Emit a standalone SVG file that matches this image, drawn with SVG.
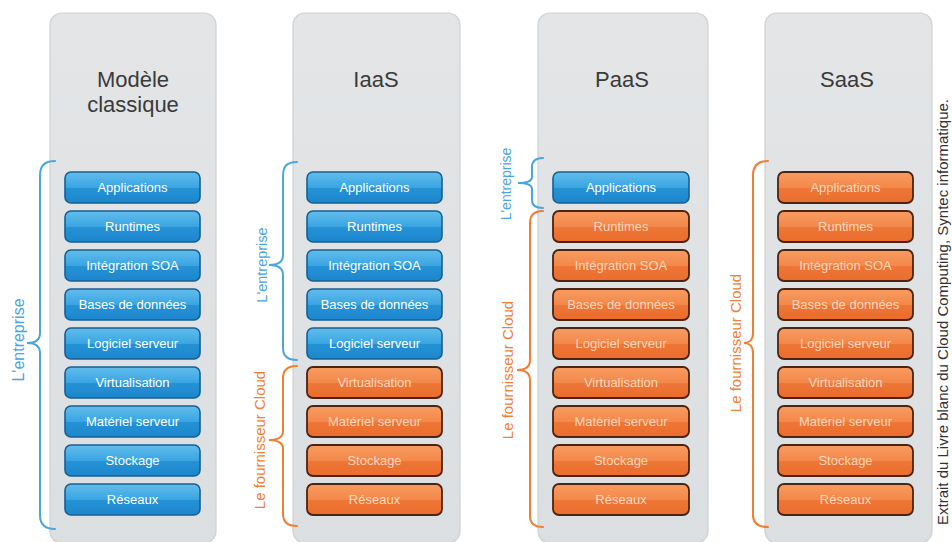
<svg xmlns="http://www.w3.org/2000/svg" width="952" height="542" viewBox="0 0 952 542">
  <defs>
    <linearGradient id="gBlue" x1="0" y1="0" x2="0" y2="1">
      <stop offset="0" stop-color="#62bdec"/>
      <stop offset="0.5" stop-color="#3aa5e2"/>
      <stop offset="0.52" stop-color="#2592d6"/>
      <stop offset="1" stop-color="#1d86cc"/>
    </linearGradient>
    <linearGradient id="gOrange" x1="0" y1="0" x2="0" y2="1">
      <stop offset="0" stop-color="#f89c62"/>
      <stop offset="0.5" stop-color="#f3884a"/>
      <stop offset="0.52" stop-color="#ee7637"/>
      <stop offset="1" stop-color="#ea6d2c"/>
    </linearGradient>
    <linearGradient id="gPanel" x1="0" y1="0" x2="0" y2="1">
      <stop offset="0" stop-color="#e3e5e7"/>
      <stop offset="1" stop-color="#dcdfe1"/>
    </linearGradient>
  </defs>
  <style>
    .panel { fill: url(#gPanel); stroke: #cdd1d4; stroke-width: 1.2; }
    .blue rect { fill: url(#gBlue); stroke: #175f92; stroke-width: 1.6; }
    .orange rect { fill: url(#gOrange); stroke: #4b2412; stroke-width: 1.8; }
    .blue text { fill: #ffffff; }
    .orange text { fill: #fbd6bc; }
    .box text { font-family: "Liberation Sans", Arial, sans-serif; font-size: 13px; text-anchor: middle; }
    .head { font-family: "Liberation Sans", Arial, sans-serif; font-size: 22px; fill: #3a3a3a; text-anchor: middle; }
    .brace { fill: none; stroke-width: 2; stroke-linecap: round; }
    .bBlue { stroke: #4aa6de; }
    .bOrange { stroke: #f07f36; }
    .lbl { font-family: "Liberation Sans", Arial, sans-serif; text-anchor: middle; }
    .lBlue { fill: #4aa6de; }
    .lOrange { fill: #f07f36; }
    .credit { font-family: "Liberation Sans", Arial, sans-serif; font-size: 15px; fill: #333333; text-anchor: middle; }
  </style>

  <rect width="952" height="542" fill="#ffffff"/>

  <!-- Column 1: Modèle classique -->
  <g id="col-classique">
    <rect class="panel" x="50" y="13" width="166" height="530" rx="12"/>
    <text class="head" x="133" y="87">Modèle</text>
    <text class="head" x="133" y="112">classique</text>
    <g id="c1-applications" class="box blue"><rect x="65" y="172" width="135" height="31" rx="6"/><text x="132.5" y="192">Applications</text></g>
    <g id="c1-runtimes" class="box blue"><rect x="65" y="211" width="135" height="31" rx="6"/><text x="132.5" y="231">Runtimes</text></g>
    <g id="c1-soa" class="box blue"><rect x="65" y="250" width="135" height="31" rx="6"/><text x="132.5" y="270">Intégration SOA</text></g>
    <g id="c1-bdd" class="box blue"><rect x="65" y="289" width="135" height="31" rx="6"/><text x="132.5" y="309">Bases de données</text></g>
    <g id="c1-logiciel" class="box blue"><rect x="65" y="328" width="135" height="31" rx="6"/><text x="132.5" y="348">Logiciel serveur</text></g>
    <g id="c1-virtu" class="box blue"><rect x="65" y="367" width="135" height="31" rx="6"/><text x="132.5" y="387">Virtualisation</text></g>
    <g id="c1-materiel" class="box blue"><rect x="65" y="406" width="135" height="31" rx="6"/><text x="132.5" y="426">Matériel serveur</text></g>
    <g id="c1-stockage" class="box blue"><rect x="65" y="445" width="135" height="31" rx="6"/><text x="132.5" y="465">Stockage</text></g>
    <g id="c1-reseaux" class="box blue"><rect x="65" y="484" width="135" height="31" rx="6"/><text x="132.5" y="504">Réseaux</text></g>
  </g>

  <!-- Column 2: IaaS -->
  <g id="col-iaas">
    <rect class="panel" x="293" y="13" width="167" height="530" rx="12"/>
    <text class="head" x="376" y="87">IaaS</text>
    <g id="c2-applications" class="box blue"><rect x="307" y="172" width="135" height="31" rx="6"/><text x="374.5" y="192">Applications</text></g>
    <g id="c2-runtimes" class="box blue"><rect x="307" y="211" width="135" height="31" rx="6"/><text x="374.5" y="231">Runtimes</text></g>
    <g id="c2-soa" class="box blue"><rect x="307" y="250" width="135" height="31" rx="6"/><text x="374.5" y="270">Intégration SOA</text></g>
    <g id="c2-bdd" class="box blue"><rect x="307" y="289" width="135" height="31" rx="6"/><text x="374.5" y="309">Bases de données</text></g>
    <g id="c2-logiciel" class="box blue"><rect x="307" y="328" width="135" height="31" rx="6"/><text x="374.5" y="348">Logiciel serveur</text></g>
    <g id="c2-virtu" class="box orange"><rect x="307" y="367" width="135" height="31" rx="6"/><text x="374.5" y="387">Virtualisation</text></g>
    <g id="c2-materiel" class="box orange"><rect x="307" y="406" width="135" height="31" rx="6"/><text x="374.5" y="426">Matériel serveur</text></g>
    <g id="c2-stockage" class="box orange"><rect x="307" y="445" width="135" height="31" rx="6"/><text x="374.5" y="465">Stockage</text></g>
    <g id="c2-reseaux" class="box orange"><rect x="307" y="484" width="135" height="31" rx="6"/><text x="374.5" y="504">Réseaux</text></g>
  </g>

  <!-- Column 3: PaaS -->
  <g id="col-paas">
    <rect class="panel" x="538" y="13" width="170" height="530" rx="12"/>
    <text class="head" x="622" y="87">PaaS</text>
    <g id="c3-applications" class="box blue"><rect x="553" y="172" width="136" height="31" rx="6"/><text x="621" y="192">Applications</text></g>
    <g id="c3-runtimes" class="box orange"><rect x="553" y="211" width="136" height="31" rx="6"/><text x="621" y="231">Runtimes</text></g>
    <g id="c3-soa" class="box orange"><rect x="553" y="250" width="136" height="31" rx="6"/><text x="621" y="270">Intégration SOA</text></g>
    <g id="c3-bdd" class="box orange"><rect x="553" y="289" width="136" height="31" rx="6"/><text x="621" y="309">Bases de données</text></g>
    <g id="c3-logiciel" class="box orange"><rect x="553" y="328" width="136" height="31" rx="6"/><text x="621" y="348">Logiciel serveur</text></g>
    <g id="c3-virtu" class="box orange"><rect x="553" y="367" width="136" height="31" rx="6"/><text x="621" y="387">Virtualisation</text></g>
    <g id="c3-materiel" class="box orange"><rect x="553" y="406" width="136" height="31" rx="6"/><text x="621" y="426">Matériel serveur</text></g>
    <g id="c3-stockage" class="box orange"><rect x="553" y="445" width="136" height="31" rx="6"/><text x="621" y="465">Stockage</text></g>
    <g id="c3-reseaux" class="box orange"><rect x="553" y="484" width="136" height="31" rx="6"/><text x="621" y="504">Réseaux</text></g>
  </g>

  <!-- Column 4: SaaS -->
  <g id="col-saas">
    <rect class="panel" x="765" y="13" width="167" height="530" rx="12"/>
    <text class="head" x="847" y="87">SaaS</text>
    <g id="c4-applications" class="box orange"><rect x="778" y="172" width="135" height="31" rx="6"/><text x="845.5" y="192">Applications</text></g>
    <g id="c4-runtimes" class="box orange"><rect x="778" y="211" width="135" height="31" rx="6"/><text x="845.5" y="231">Runtimes</text></g>
    <g id="c4-soa" class="box orange"><rect x="778" y="250" width="135" height="31" rx="6"/><text x="845.5" y="270">Intégration SOA</text></g>
    <g id="c4-bdd" class="box orange"><rect x="778" y="289" width="135" height="31" rx="6"/><text x="845.5" y="309">Bases de données</text></g>
    <g id="c4-logiciel" class="box orange"><rect x="778" y="328" width="135" height="31" rx="6"/><text x="845.5" y="348">Logiciel serveur</text></g>
    <g id="c4-virtu" class="box orange"><rect x="778" y="367" width="135" height="31" rx="6"/><text x="845.5" y="387">Virtualisation</text></g>
    <g id="c4-materiel" class="box orange"><rect x="778" y="406" width="135" height="31" rx="6"/><text x="845.5" y="426">Matériel serveur</text></g>
    <g id="c4-stockage" class="box orange"><rect x="778" y="445" width="135" height="31" rx="6"/><text x="845.5" y="465">Stockage</text></g>
    <g id="c4-reseaux" class="box orange"><rect x="778" y="484" width="135" height="31" rx="6"/><text x="845.5" y="504">Réseaux</text></g>
  </g>

  <!-- Braces marking who manages each layer -->
  <g id="braces">
    <path class="brace bBlue" d="M55,161 C45,161 40,165 40,175 L40,333 C40,340 35,343 27,343 C35,343 40,346 40,353 L40,515 C40,525 45,529 55,529"/>
    <path class="brace bBlue" d="M297,162 C287,162 283,166 283,176 L283,255 C283,262 278,265 269,265 C278,265 283,268 283,275 L283,348 C283,356 287,360 297,360"/>
    <path class="brace bOrange" d="M297,366 C287,366 283,370 283,378 L283,431 C283,437 278,440 269,440 C278,440 283,443 283,449 L283,514 C283,522 287,526 297,526"/>
    <path class="brace bBlue" d="M543,158 C535,158 532,161 532,167 L532,177 C532,181 527,183 518,183 C527,183 532,185 532,189 L532,200 C532,205 535,208 543,208"/>
    <path class="brace bOrange" d="M543,211 C534,211 530,215 530,223 L530,360 C530,366 526,370 517,370 C526,370 530,374 530,380 L530,516 C530,523 534,527 543,527"/>
    <path class="brace bOrange" d="M768,161 C758,161 753,165 753,175 L753,333 C753,340 749,343 744,343 C749,343 753,346 753,353 L753,515 C753,523 758,527 768,527"/>
  </g>

  <!-- Brace labels -->
  <g id="labels">
    <text class="lbl lBlue" font-size="16" transform="translate(24,340) rotate(-90)">L'entreprise</text>
    <text class="lbl lBlue" font-size="14.5" transform="translate(267,265) rotate(-90)">L'entreprise</text>
    <text class="lbl lOrange" font-size="15" transform="translate(265,440) rotate(-90)">Le fournisseur Cloud</text>
    <text class="lbl lBlue" font-size="14" transform="translate(511,184) rotate(-90)">L'entreprise</text>
    <text class="lbl lOrange" font-size="15" transform="translate(513,370) rotate(-90)">Le fournisseur Cloud</text>
    <text class="lbl lOrange" font-size="15" transform="translate(741,343) rotate(-90)">Le fournisseur Cloud</text>
  </g>

  <text class="credit" transform="translate(948,312) rotate(-90)">Extrait du Livre blanc du Cloud Computing, Syntec informatique.</text>
</svg>
